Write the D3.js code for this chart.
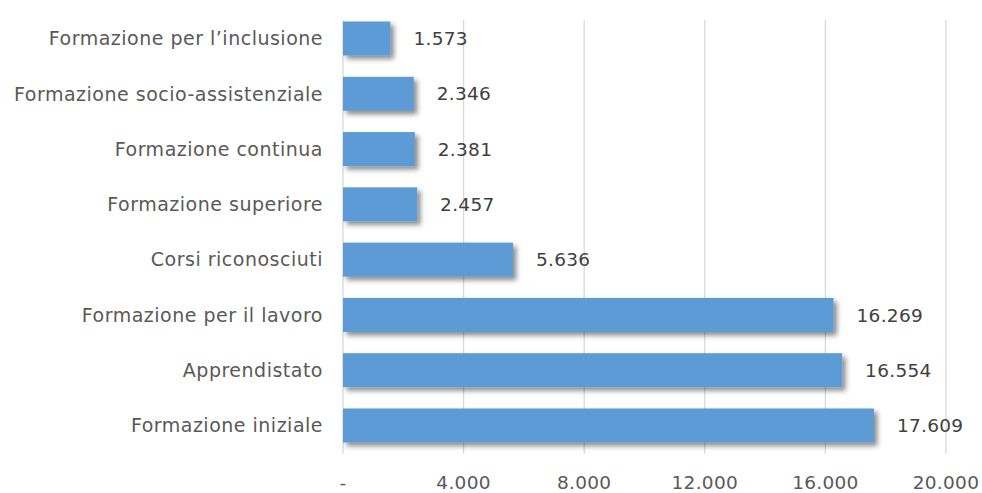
<!DOCTYPE html>
<html><head><meta charset="utf-8">
<script src="https://cdn.jsdelivr.net/npm/d3@7"></script>
<style>body{margin:0;background:#fff;} svg{display:block;}</style>
</head><body>
<svg id="c" width="982" height="493"></svg>
<script>
const categories = ["Formazione per l\u2019inclusione","Formazione socio-assistenziale","Formazione continua","Formazione superiore","Corsi riconosciuti","Formazione per il lavoro","Apprendistato","Formazione iniziale"];
const values = [1573,2346,2381,2457,5636,16269,16554,17609];
const tickValues = [0,4000,8000,12000,16000,20000];
const tickLabels = ["-","4.000","8.000","12.000","16.000","20.000"];

const svg = d3.select("#c");
const font = "'DejaVu Sans', sans-serif";
const x = d3.scaleLinear().domain([0,20000]).range([343,946]);
const y = d3.scaleBand().domain(categories).range([11,453]).paddingInner(0.385).paddingOuter(0.19);

const defs = svg.append("defs");
const f = defs.append("filter").attr("id","sh").attr("x","-10%").attr("y","-30%").attr("width","130%").attr("height","190%");
f.append("feDropShadow").attr("dx",3.5).attr("dy",3.5).attr("stdDeviation",2.6).attr("flood-color","#000").attr("flood-opacity",0.45);

svg.append("g").selectAll("line").data(tickValues).join("line")
  .attr("x1",d=>x(d)).attr("x2",d=>x(d)).attr("y1",20).attr("y2",454)
  .attr("stroke","#d9d9d9").attr("stroke-width",1.3);

svg.append("g").selectAll("rect").data(values).join("rect")
  .attr("x",x(0)).attr("y",(d,i)=>y(categories[i])).attr("width",d=>x(d)-x(0)).attr("height",y.bandwidth())
  .attr("fill","#5b9bd5").attr("filter","url(#sh)");

svg.append("g").selectAll("text").data(values).join("text")
  .attr("x",d=>x(d)+23).attr("y",(d,i)=>y(categories[i])+y.bandwidth()/2).attr("dy","0.36em")
  .attr("font-family",font).attr("font-size",18.5).attr("letter-spacing",0.3).attr("fill","#404040")
  .text(d=>d3.format(",")(d).replace(/,/g,"."));

svg.append("g").selectAll("text").data(categories).join("text")
  .attr("x",323).attr("y",d=>y(d)+y.bandwidth()/2).attr("dy","0.36em").attr("text-anchor","end")
  .attr("font-family",font).attr("font-size",19).attr("letter-spacing",0.5).attr("fill","#595959").text(d=>d);

svg.append("g").selectAll("text").data(tickValues).join("text")
  .attr("x",d=>x(d)).attr("y",489).attr("text-anchor","middle")
  .attr("font-family",font).attr("font-size",18.5).attr("letter-spacing",0.3).attr("fill","#595959")
  .text((d,i)=>tickLabels[i]);
</script>
</body></html>
